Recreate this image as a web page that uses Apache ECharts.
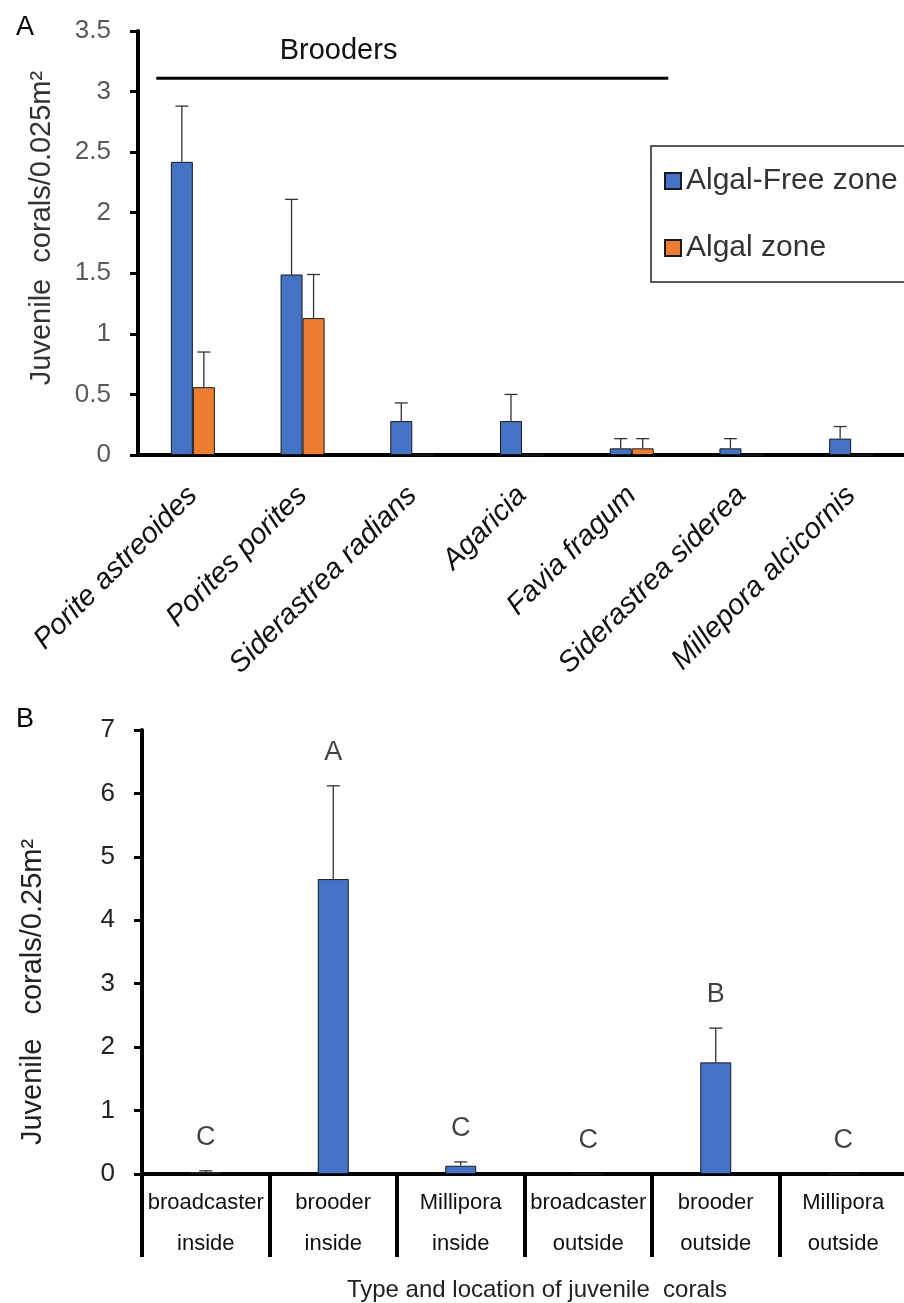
<!DOCTYPE html>
<html>
<head>
<meta charset="utf-8">
<script src="https://cdn.jsdelivr.net/npm/echarts@6/dist/echarts.min.js"></script>
<style>
html,body{margin:0;padding:0;background:#fff;}
#c{width:904px;height:1303px;}
</style>
</head>
<body>
<div id="c"></div>
<script>
// ---- Panel A data ----
const speciesA = ['Porite astreoides','Porites porites','Siderastrea radians','Agaricia','Favia fragum','Siderastrea siderea','Millepora alcicornis'];
const freeMean = [2.42, 1.49, 0.28, 0.28, 0.055, 0.055, 0.135];
const freeErr  = [0.46, 0.62, 0.15, 0.22, 0.08, 0.08, 0.10];
const algalMean = [0.56, 1.13, 0, 0, 0.055, 0, 0];
const algalErr  = [0.29, 0.36, 0, 0, 0.08, 0, 0];
const ticksA = {min:0, max:3.5, interval:0.5};
const broodersLevel = 3.11;   // value height of the "Brooders" bracket
const broodersFrom = 0, broodersTo = 4; // categories spanned

// ---- Panel B data ----
const typesB = ['broadcaster\ninside','brooder\ninside','Millipora\ninside','broadcaster\noutside','brooder\noutside','Millipora\noutside'];
const meanB = [0.03, 4.65, 0.13, 0, 1.76, 0];
const errB  = [0.02, 1.47, 0.06, 0, 0.54, 0];
const lettersB = ['C','A','C','C','B','C'];
const ticksB = {min:0, max:7, interval:1};

const FONT = '"Liberation Sans", Arial, sans-serif';
const BLUE = '#4472C4', ORANGE = '#ED7D31';

function errData(means, errs){
  return means.map((m,i)=>[i, m, m + errs[i], errs[i]]);
}
function errRender(offset){
  return function(params, api){
    const e = api.value(3);
    if (!e) return;
    const i = api.value(0);
    const p0 = api.coord([i, api.value(1)]);
    const p1 = api.coord([i, api.value(2)]);
    const x = p0[0] + offset;
    const style = {stroke:'#333', lineWidth:1.3};
    return {type:'group', children:[
      {type:'line', shape:{x1:x, y1:p0[1], x2:x, y2:p1[1]}, style:style},
      {type:'line', shape:{x1:x-6.5, y1:p1[1], x2:x+6.5, y2:p1[1]}, style:style}
    ]};
  };
}

const chart = echarts.init(document.getElementById('c'), null, {renderer:'canvas'});
const barBorder = {borderColor:'#1a1a1a', borderWidth:1};

const option = {
  backgroundColor:'#fff',
  animation:false,
  textStyle:{fontFamily:FONT},
  title:[
    {text:'A', left:11, top:9, textStyle:{fontSize:27, fontWeight:'normal', color:'#000', fontFamily:FONT}},
    {text:'B', left:11, top:701, textStyle:{fontSize:27, fontWeight:'normal', color:'#000', fontFamily:FONT}}
  ],
  legend:{
    data:['Algal-Free zone','Algal zone'],
    orient:'vertical', left:651, top:146,
    padding:[20,13,19,13], itemGap:37,
    itemWidth:16, itemHeight:16, icon:'rect',
    borderColor:'#222', borderWidth:1.5, borderRadius:0,
    textStyle:{fontSize:30, color:'#333', fontFamily:FONT, lineHeight:30},
    selectedMode:false
  },
  grid:[
    {left:138, top:31, width:768, height:424, containLabel:false, outerBoundsMode:'none'},
    {left:142, top:730, width:765, height:444, containLabel:false, outerBoundsMode:'none'}
  ],
  xAxis:[
    {type:'category', gridIndex:0, data:speciesA,
     axisLine:{lineStyle:{color:'#000', width:4}},
     axisTick:{show:false},
     axisLabel:{interval:0, rotate:45, fontSize:29, fontStyle:'italic', color:'#111', margin:36, fontFamily:FONT}},
    {type:'category', gridIndex:1, data:typesB,
     name:'Type and location of juvenile  corals', nameLocation:'middle', nameGap:104,
     nameTextStyle:{fontSize:24, color:'#222', fontFamily:FONT, padding:[0,0,0,25]},
     axisLine:{lineStyle:{color:'#000', width:4}},
     axisTick:{show:true, length:83, lineStyle:{color:'#000', width:4}},
     axisLabel:{interval:0, fontSize:22, lineHeight:41, color:'#111', margin:8, fontFamily:FONT}}
  ],
  yAxis:[
    {type:'value', gridIndex:0, min:ticksA.min, max:ticksA.max, interval:ticksA.interval,
     name:'Juvenile  corals/0.025m²', nameLocation:'middle', nameGap:82,
     nameTextStyle:{fontSize:29, color:'#333', fontFamily:FONT, padding:[0,0,0,30]},
     axisLine:{show:true, lineStyle:{color:'#000', width:4}},
     axisTick:{show:true, length:8, lineStyle:{color:'#000', width:3}},
     splitLine:{show:false},
     axisLabel:{fontSize:26, color:'#595959', margin:27, fontFamily:FONT}},
    {type:'value', gridIndex:1, min:ticksB.min, max:ticksB.max, interval:ticksB.interval,
     name:'Juvenile   corals/0.25m²', nameLocation:'middle', nameGap:95,
     nameTextStyle:{fontSize:29, color:'#222', fontFamily:FONT, padding:[0,80,0,0]},
     axisLine:{show:true, lineStyle:{color:'#000', width:4}},
     axisTick:{show:true, length:8, lineStyle:{color:'#000', width:3}},
     splitLine:{show:false},
     axisLabel:{fontSize:26, color:'#222', margin:27, fontFamily:FONT}}
  ],
  series:[
    {name:'Algal-Free zone', type:'bar', xAxisIndex:0, yAxisIndex:0, data:freeMean,
     barWidth:22, barGap:'0%', itemStyle:Object.assign({color:BLUE}, barBorder)},
    {name:'Algal zone', type:'bar', xAxisIndex:0, yAxisIndex:0, data:algalMean,
     barWidth:22, barGap:'0%', itemStyle:Object.assign({color:ORANGE}, barBorder)},
    {name:'errFree', type:'custom', xAxisIndex:0, yAxisIndex:0, data:errData(freeMean, freeErr),
     renderItem:errRender(-11), encode:{x:0, y:[1,2]}, z:5},
    {name:'errAlgal', type:'custom', xAxisIndex:0, yAxisIndex:0, data:errData(algalMean, algalErr),
     renderItem:errRender(11), encode:{x:0, y:[1,2]}, z:5},
    {name:'Juveniles', type:'bar', xAxisIndex:1, yAxisIndex:1, data:meanB,
     barWidth:31, itemStyle:Object.assign({color:BLUE}, barBorder)},
    {name:'errB', type:'custom', xAxisIndex:1, yAxisIndex:1, data:errData(meanB, errB),
     renderItem:errRender(0), encode:{x:0, y:[1,2]}, z:5},
    {name:'letters', type:'scatter', xAxisIndex:1, yAxisIndex:1,
     data:meanB.map((m,i)=>[i, m + errB[i]]), symbolSize:0,
     label:{show:true, position:'top', distance:20, fontSize:27, color:'#111', fontFamily:FONT,
            formatter:p=>lettersB[p.dataIndex]}}
  ]
};
chart.setOption(option);

// Brooders bracket, positioned via the chart's own scales
const pa = chart.convertToPixel({xAxisIndex:0, yAxisIndex:0}, [broodersFrom, broodersLevel]);
const pb = chart.convertToPixel({xAxisIndex:0, yAxisIndex:0}, [broodersTo, broodersLevel]);
const pc = chart.convertToPixel({xAxisIndex:0, yAxisIndex:0}, [1, broodersLevel]);
const halfCat = (pb[0]-pa[0])/(broodersTo-broodersFrom)/3;
chart.setOption({graphic:[
  {type:'line', shape:{x1:pa[0]-halfCat, y1:pa[1], x2:pb[0]+halfCat, y2:pb[1]}, style:{stroke:'#000', lineWidth:3}},
  {type:'text', x:pc[0]+36, y:pa[1]-27, style:{text:'Brooders', font:'29px ' + FONT, fill:'#111', textAlign:'center', textVerticalAlign:'middle'}}
]});
</script>
</body>
</html>
